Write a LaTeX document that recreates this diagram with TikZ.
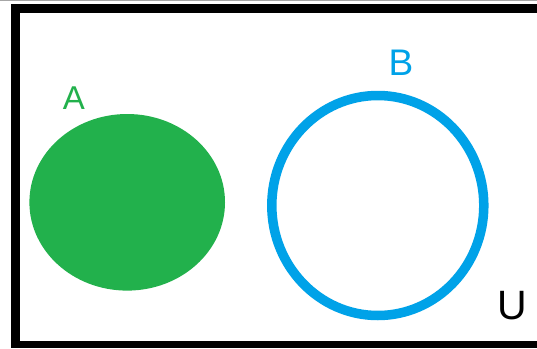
\documentclass[tikz,border=0pt]{standalone}
\usepackage{fontspec}
\setmainfont{Liberation Sans}
\definecolor{paintgreen}{HTML}{22B14C}
\definecolor{paintblue}{HTML}{00A2E8}
\begin{document}
\begin{tikzpicture}[x=1pt,y=-1pt,
  lbl/.style={inner sep=0pt,anchor=base}]
\useasboundingbox (0,0) rectangle (537,348);
\fill[white] (0,0) rectangle (537,348);
% thin grey line at the top
\fill[gray!70] (0,0) rectangle (537,1.2);
% universe frame
\fill[black] (11,4) rectangle (537,13);
\fill[black] (11,4) rectangle (20,348);
\fill[black] (11,341) rectangle (537,348);
% set A
\fill[paintgreen] (127.2,202.3) ellipse [x radius=97.8, y radius=88.3];
% set B
\draw[paintblue, line width=9.5pt] (377.8,205.5) ellipse [x radius=106, y radius=110];
% labels
\node[lbl, text=paintgreen, font=\fontsize{33}{33}\selectfont] (a) at (74,109) {A};
\node[lbl, text=paintblue, font=\fontsize{37}{37}\selectfont] (b) at (401,75) {B};
\node[lbl, text=black, font=\fontsize{41}{41}\selectfont] (u) at (512,319) {U};
\end{tikzpicture}
\end{document}
